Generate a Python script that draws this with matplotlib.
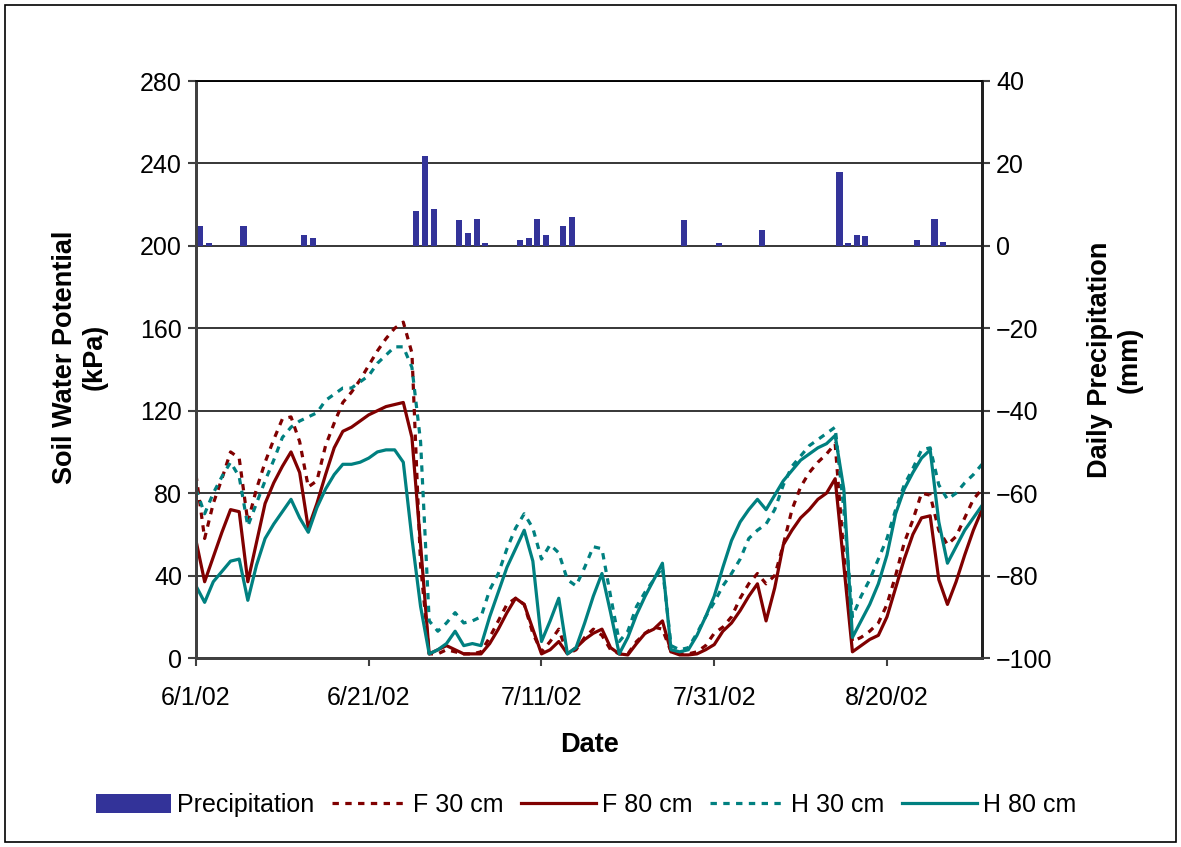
import matplotlib
matplotlib.use('Agg')
import matplotlib.pyplot as plt
import matplotlib.dates as mdates
from matplotlib.patches import Rectangle
import pandas as pd

plt.rcParams['font.family'] = ['Liberation Sans', 'DejaVu Sans']

# daily readings, 6/1/02 .. 8/31/02
dates = pd.date_range('2002-06-01', '2002-08-31', freq='D')

f30 = [89, 58, 75, 87, 100, 97, 66, 82, 95, 106, 116, 117, 105, 83, 86, 103,
       114, 124, 129, 135, 142, 149, 155, 160, 163, 148, 45, 2, 2, 4, 3, 2,
       2, 3, 10, 18, 26, 29, 26, 12, 3, 8, 14, 2, 4, 10, 14, 11, 4, 2,
       2, 8, 12, 15, 14, 3, 2, 2, 3, 6, 12, 15, 20, 29, 36, 41, 36, 40,
       55, 72, 83, 90, 95, 99, 104, 50, 8, 10, 13, 17, 26, 40, 56, 67, 80, 79,
       62, 55, 59, 68, 77, 82]
f80 = [57, 37, 49, 61, 72, 71, 37, 56, 75, 85, 93, 100, 90, 63, 75, 89,
       102, 110, 112, 115, 118, 120, 122, 123, 124, 107, 55, 2, 4, 6, 4, 2,
       2, 2, 7, 14, 22, 29, 26, 14, 2, 4, 8, 2, 5, 9, 12, 14, 5, 2,
       1.5, 7, 12, 14, 18, 3, 1.5, 1.5, 2, 4, 6.5, 13, 17, 23, 30, 36, 18, 34,
       55, 62, 68, 72, 77, 80, 87, 45, 3, 6, 9, 11, 20, 34, 48, 60, 68, 69,
       38, 26, 37, 50, 62, 72]
h30 = [82, 70, 80, 88, 95, 88, 64, 75, 86, 96, 107, 112, 115, 117, 119, 125,
       128, 131, 131, 134, 137, 143, 147, 151, 151, 141, 105, 18, 13, 17, 22, 17,
       18, 20, 33, 41, 53, 63, 70, 63, 48, 55, 51, 38, 35, 44, 54, 53, 30, 8,
       13, 25, 32, 38, 44, 6, 4, 5, 12, 20, 27, 35, 41, 48, 58, 62, 65, 72,
       84, 93, 98, 103, 106, 109, 112, 72, 20, 30, 38, 48, 58, 72, 84, 92, 101, 102,
       84, 77, 80, 85, 89, 94]
h80 = [35, 27, 37, 42, 47, 48, 28, 45, 58, 65, 71, 77, 68, 61, 73, 82,
       89, 94, 94, 95, 97, 100, 101, 101, 95, 58, 25, 2, 4, 7, 13, 6,
       7, 6, 20, 32, 44, 53, 62, 47, 8, 18, 29, 2, 5, 17, 30, 41, 22, 2,
       10, 21, 30, 38, 46, 4, 3, 4, 11, 20, 30, 44, 57, 66, 72, 77, 72, 79,
       86, 91, 96, 99, 102, 104, 108, 82, 10, 18, 26, 36, 50, 70, 82, 90, 97, 101,
       66, 46, 54, 62, 68, 74]

# daily precipitation (mm), days after 6/1/02
rain_day = [0, 1, 5, 12, 13, 25, 26, 27, 30, 31, 32, 33, 37, 38, 39, 40, 42, 43,
            56, 60, 65, 74, 75, 76, 77, 83, 85, 86]
rain_mm = [4.9, 0.7, 4.9, 2.7, 1.9, 8.5, 21.8, 9.0, 6.3, 3.2, 6.5, 0.7, 1.5, 1.9,
           6.5, 2.7, 4.9, 7.0, 6.3, 0.7, 3.9, 18.0, 0.7, 2.7, 2.4, 1.5, 6.5, 1.0]

tick_dates = ['2002-06-01', '2002-06-21', '2002-07-11', '2002-07-31', '2002-08-20']
tick_labels = ['6/1/02', '6/21/02', '7/11/02', '7/31/02', '8/20/02']

red = '#800000'
teal = '#008080'
blue = '#333399'

fig = plt.figure(figsize=(11.81, 8.47), dpi=100)
ax = fig.add_axes([196 / 1181, 1 - 658 / 847, (982 - 196) / 1181, (658 - 81) / 847])
ax2 = ax.twinx()

x = mdates.date2num(dates)
rain_x = mdates.date2num(pd.Timestamp('2002-06-01')) + pd.Series(rain_day) + 0.5
bars = ax2.bar(rain_x, rain_mm, width=0.7, color=blue, label='Precipitation')

l1, = ax.plot(x, f30, color=red, lw=2.3, ls=(0, (2, 2)), label='F 30 cm')
l2, = ax.plot(x, f80, color=red, lw=2.3, label='F 80 cm')
l3, = ax.plot(x, h30, color=teal, lw=2.3, ls=(0, (2, 2)), label='H 30 cm')
l4, = ax.plot(x, h80, color=teal, lw=2.3, label='H 80 cm')

ax.set_xlim(mdates.date2num(pd.Timestamp('2002-06-01')),
            mdates.date2num(pd.Timestamp('2002-08-31')))
ax.set_ylim(0, 280)
ax.set_yticks(range(0, 281, 40))
ax2.set_ylim(-100, 40)
ax2.set_yticks(range(-100, 41, 20))
ax.set_xticks(mdates.date2num(pd.to_datetime(tick_dates)))
ax.set_xticklabels(tick_labels)

ax.grid(axis='y', color='black', lw=1.1)
ax.set_axisbelow(True)

for a in (ax, ax2):
    a.spines['top'].set_color('black')
    a.spines['top'].set_linewidth(1.1)
    a.spines['left'].set_color('#404040')
    a.spines['left'].set_linewidth(2)
    a.spines['right'].set_color('#202020')
    a.spines['right'].set_linewidth(2)
    a.spines['bottom'].set_color('#404040')
    a.spines['bottom'].set_linewidth(2)
    a.tick_params(direction='out', length=6, width=1.5, color='#404040',
                  labelsize=18, pad=4)
ax.tick_params(axis='x', pad=14)

fig.text(80 / 1181, 1 - 357 / 847, 'Soil Water Potential\n(kPa)', rotation=90,
         ha='center', va='center', fontsize=19.5, fontweight='bold',
         multialignment='center', linespacing=1.2)
fig.text(1115 / 1181, 1 - 360 / 847, 'Daily Precipitation\n(mm)', rotation=90,
         ha='center', va='center', fontsize=19.5, fontweight='bold',
         multialignment='center', linespacing=1.2)
fig.text(590 / 1181, 1 - 745 / 847, 'Date', ha='center', va='center',
         fontsize=19.5, fontweight='bold')

fig.legend([bars, l1, l2, l3, l4],
           ['Precipitation', 'F 30 cm', 'F 80 cm', 'H 30 cm', 'H 80 cm'],
           loc='center', bbox_to_anchor=(586 / 1181, 1 - 805 / 847), ncol=5,
           frameon=False, fontsize=18, handlelength=3.0, handleheight=0.8,
           handletextpad=0.25, columnspacing=0.7)

fig.patches.append(Rectangle((5 / 1181, 5 / 847), 1 - 10 / 1181, 1 - 10 / 847,
                             transform=fig.transFigure, fill=False,
                             edgecolor='black', lw=1.2))

fig.savefig('out.png', dpi=100)
